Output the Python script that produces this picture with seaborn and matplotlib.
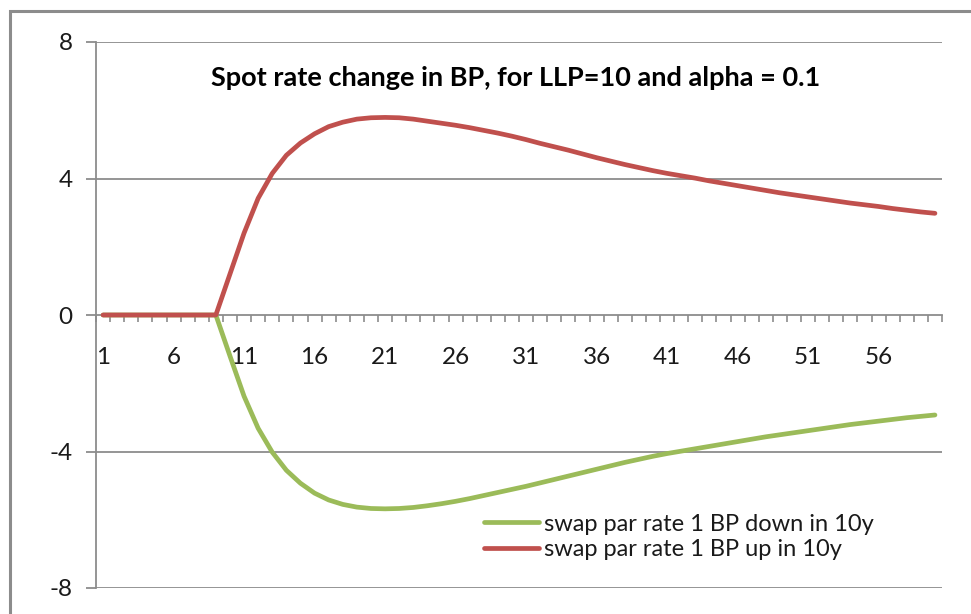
import numpy as np
import pandas as pd
import matplotlib
matplotlib.use("Agg")
import matplotlib.pyplot as plt
import seaborn as sns
from matplotlib.patches import Rectangle
from matplotlib.ticker import FixedLocator

# Maturity index (years)
years = list(range(1, 61))

# Spot rate change in basis points after a 1 BP move of the 10y swap par rate
up_10y = [
    0, 0, 0, 0, 0, 0, 0, 0, 0, 1.20,
    2.40, 3.42, 4.15, 4.68, 5.04, 5.31, 5.52, 5.65, 5.74, 5.78,
    5.79, 5.78, 5.74, 5.68, 5.62, 5.56, 5.49, 5.41, 5.33, 5.24,
    5.14, 5.03, 4.93, 4.83, 4.72, 4.61, 4.51, 4.41, 4.32, 4.23,
    4.15, 4.08, 4.01, 3.93, 3.86, 3.79, 3.72, 3.65, 3.58, 3.52,
    3.46, 3.40, 3.34, 3.28, 3.23, 3.18, 3.12, 3.07, 3.02, 2.98,
]
down_10y = [
    0, 0, 0, 0, 0, 0, 0, 0, 0, -1.20,
    -2.38, -3.32, -4.02, -4.55, -4.93, -5.22, -5.42, -5.55, -5.63, -5.67,
    -5.68, -5.67, -5.64, -5.59, -5.53, -5.46, -5.38, -5.29, -5.20, -5.11,
    -5.02, -4.92, -4.82, -4.72, -4.62, -4.52, -4.42, -4.32, -4.23, -4.14,
    -4.06, -3.99, -3.92, -3.85, -3.78, -3.71, -3.64, -3.57, -3.51, -3.45,
    -3.39, -3.33, -3.27, -3.21, -3.16, -3.11, -3.06, -3.01, -2.97, -2.93,
]

series_names = ["swap par rate 1 BP down in 10y", "swap par rate 1 BP up in 10y"]
series_colors = ["#9BBB59", "#C0504D"]
y_ticks = [-8, -4, 0, 4, 8]
x_tick_labels = [1, 6, 11, 16, 21, 26, 31, 36, 41, 46, 51, 56]
title = "Spot rate change in BP, for LLP=10 and alpha = 0.1"

df = pd.DataFrame({
    "year": years * 2,
    "bp": down_10y + up_10y,
    "series": [series_names[0]] * len(years) + [series_names[1]] * len(years),
})

sns.set_theme(style="white")
plt.rcParams["font.family"] = ["Lato", "DejaVu Sans"]

W, H = 971, 614
fig = plt.figure(figsize=(W / 100, H / 100), dpi=100)
ax = fig.add_axes([96 / W, 1 - 588 / H, (942 - 96) / W, (588 - 42) / H])

grid_col = "#8C8C8C"
for yv in y_ticks:
    if yv != 0:
        ax.axhline(yv, color=grid_col, lw=1.3, zorder=0)

sns.lineplot(data=df, x="year", y="bp", hue="series", hue_order=series_names,
             palette=series_colors, linewidth=3.4, ax=ax, legend=False,
             solid_capstyle="round", zorder=3)

ax.set_xlim(0.5, 60.5)
ax.set_ylim(-8, 8)
ax.set_xlabel("")
ax.set_ylabel("")

# Spines: left axis line and category axis crossing at zero
for s in ["top", "right"]:
    ax.spines[s].set_visible(False)
ax.spines["left"].set_color(grid_col)
ax.spines["left"].set_linewidth(1.3)
ax.spines["bottom"].set_position(("data", 0))
ax.spines["bottom"].set_color(grid_col)
ax.spines["bottom"].set_linewidth(1.3)
ax.spines["bottom"].set_zorder(1)

ax.set_yticks(y_ticks)
ax.set_yticklabels([str(v) for v in y_ticks])
ax.tick_params(axis="y", length=7, width=1.3, color=grid_col, pad=10,
               labelsize=17.5, labelcolor="#1a1a1a", direction="out", left=True)

ax.set_xticks(x_tick_labels)
ax.set_xticklabels([str(v) for v in x_tick_labels])
ax.tick_params(axis="x", which="major", length=0, pad=23, labelsize=17.5,
               labelcolor="#1a1a1a")
ax.xaxis.set_minor_locator(FixedLocator(np.arange(0.5, 61, 1.0)))
ax.tick_params(axis="x", which="minor", length=5, width=1.2, color=grid_col,
               direction="out", bottom=True)

fig.text(516 / W, 1 - 78 / H, title, ha="center", va="center",
         fontsize=19.5, fontweight="bold", color="black")

handles = [plt.Line2D([], [], color=c, lw=3.4) for c in series_colors]
ax.legend(handles, series_names, loc="center left",
          bbox_to_anchor=(484 / W, 1 - 537 / H), bbox_transform=fig.transFigure,
          frameon=False, fontsize=17, handlelength=2.35, handletextpad=0.2,
          labelspacing=0.2, borderpad=0, borderaxespad=0, labelcolor="#1a1a1a")

# Chart-area border
fig.add_artist(Rectangle((10 / W, -0.1), 1.2, 1 - 11 / H + 0.1,
                         transform=fig.transFigure, fill=False,
                         edgecolor="#8C8C8C", lw=2.2))

fig.savefig("out.png", dpi=100)
